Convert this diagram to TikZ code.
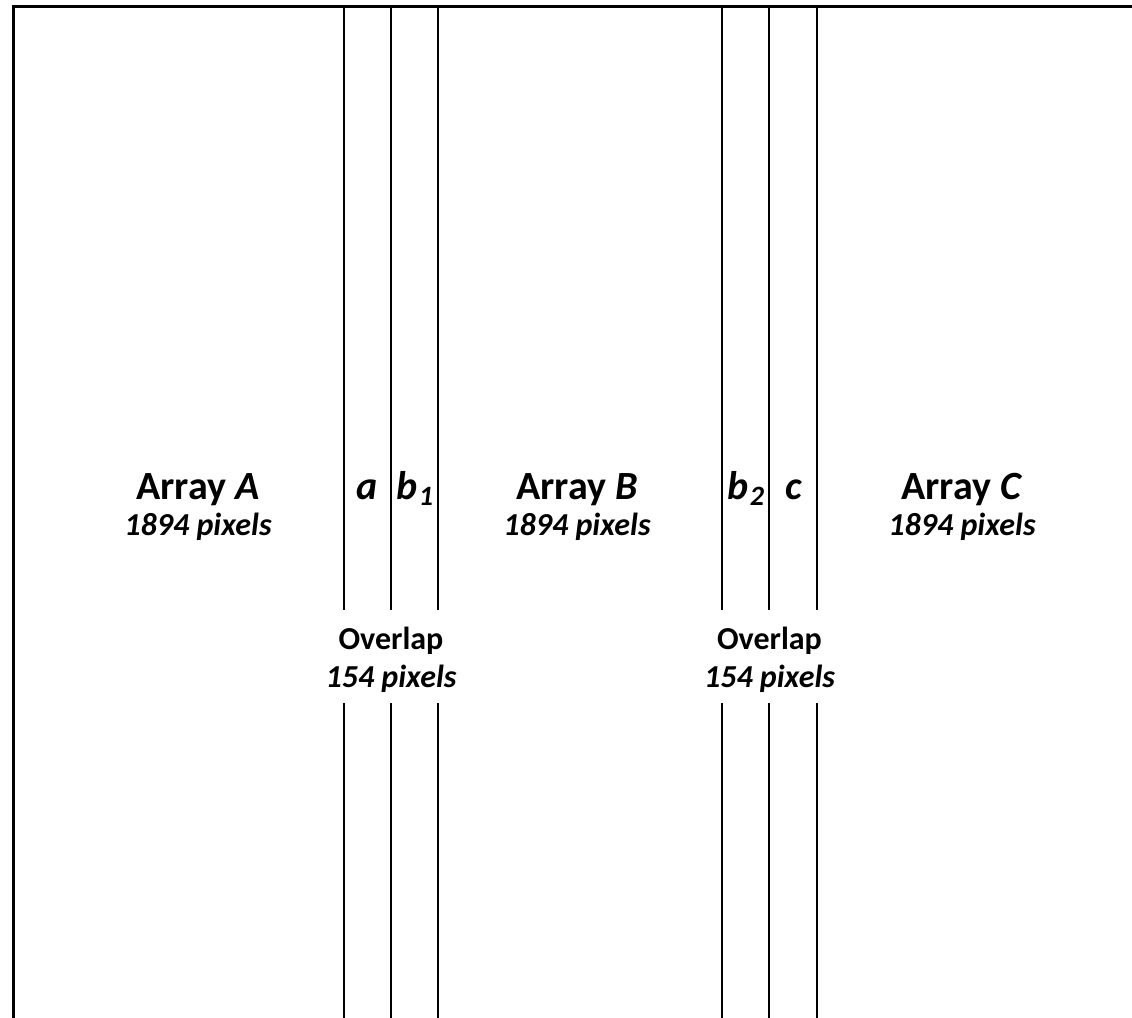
\documentclass[tikz,border=0pt]{standalone}
\usepackage{fontspec}
\setmainfont{Carlito}

\tikzset{
  boundary/.style={line width=1.5pt, line cap=rect},
  divider/.style={line width=1pt},
  arraylabel/.style={anchor=base, font=\fontsize{20}{24}\selectfont\bfseries},
  sizelabel/.style={anchor=base, font=\fontsize{16}{19}\selectfont\bfseries\itshape},
  overlaplabel/.style={anchor=base, font=\fontsize{16}{19}\selectfont\bfseries},
  striplabel/.style={anchor=base, font=\fontsize{20}{24}\selectfont\bfseries\itshape}
}
% lowered index on the strip names
\newcommand{\stripidx}[1]{\kern0.5pt\raisebox{-3pt}{\fontsize{14}{16}\selectfont #1}}

\begin{document}
\begin{tikzpicture}[x=0.5pt, y=-0.5pt]

  \useasboundingbox (0,0) rectangle (1132,1018);

  % Outer edge (left and top)
  \coordinate (corner) at (13.5,6.5);
  \draw[boundary] (13.5,1018) -- (corner) -- (1132,6.5);

  % Overlap strips, broken where the labels sit
  \foreach \x in {344,391,438,722,769,817} {
    \draw[divider] (\x,6.5) -- (\x,610);
    \draw[divider] (\x,703) -- (\x,1018);
  }

  % Arrays
  \node[arraylabel] (arrA) at (198,499) {Array \textit{A}};
  \node[sizelabel]  (pixA) at (198,535) {1894 pixels};
  \node[arraylabel] (arrB) at (577,499) {Array \textit{B}};
  \node[sizelabel]  (pixB) at (577,535) {1894 pixels};
  \node[arraylabel] (arrC) at (962,499) {Array \textit{C}};
  \node[sizelabel]  (pixC) at (962,535) {1894 pixels};

  % Strip names
  \node[striplabel] (stripa)  at (367.5,499) {a};
  \node[striplabel] (stripb1) at (415,499) {b\stripidx{1}};
  \node[striplabel] (stripb2) at (746,499) {b\stripidx{2}};
  \node[striplabel] (stripc)  at (794,499) {c};

  % Overlap widths
  \node[overlaplabel] (ovA) at (391,649) {Overlap};
  \node[sizelabel]    (ovApix) at (391,687) {154 pixels};
  \node[overlaplabel] (ovB) at (769.5,649) {Overlap};
  \node[sizelabel]    (ovBpix) at (769.5,687) {154 pixels};

\end{tikzpicture}
\end{document}
